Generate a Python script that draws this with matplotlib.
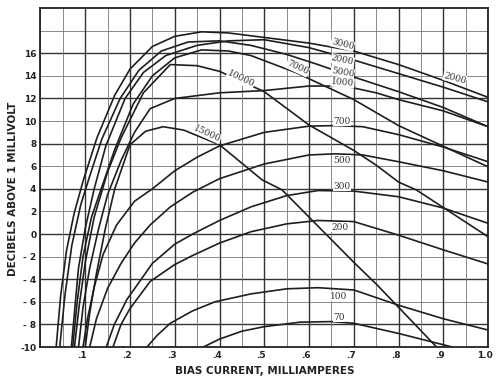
import matplotlib
matplotlib.use("Agg")
import matplotlib.pyplot as plt
import matplotlib.transforms as mtransforms
from matplotlib.ticker import MultipleLocator

# Bias current (mA) vs output (dB above 1 mV), one curve per frequency (c/s)
x_70 = [0.364, 0.40, 0.45, 0.50, 0.58, 0.65, 0.70, 0.80, 0.87, 0.92]
y_70 = [-10, -9.3, -8.6, -8.2, -7.8, -7.75, -7.9, -8.8, -9.5, -10]

x_100 = [0.238, 0.26, 0.29, 0.34, 0.39, 0.47, 0.55, 0.62, 0.70, 0.80, 0.90, 1.0]
y_100 = [-10, -9.0, -7.9, -6.8, -6.0, -5.3, -4.85, -4.75, -4.95, -6.3, -7.5, -8.5]

x_200 = [0.162, 0.18, 0.20, 0.245, 0.30, 0.34, 0.40, 0.47, 0.55, 0.62, 0.70, 0.80, 0.90, 1.0]
y_200 = [-10, -8.0, -6.6, -4.2, -2.7, -1.9, -0.8, 0.2, 0.9, 1.2, 1.1, -0.1, -1.4, -2.65]

x_300 = [0.147, 0.165, 0.193, 0.25, 0.30, 0.34, 0.40, 0.47, 0.55, 0.62, 0.70, 0.80, 0.90, 1.0]
y_300 = [-10, -8.0, -5.8, -2.6, -0.9, 0.0, 1.2, 2.4, 3.4, 3.85, 3.8, 3.3, 2.3, 0.95]

x_500 = [0.11, 0.125, 0.15, 0.18, 0.21, 0.245, 0.29, 0.34, 0.40, 0.50, 0.60, 0.66, 0.72, 0.80, 0.90, 1.0]
y_500 = [-10, -7.5, -4.8, -2.6, -0.8, 0.8, 2.4, 3.7, 4.9, 6.2, 7.0, 7.1, 7.0, 6.4, 5.6, 4.6]

x_700 = [0.095, 0.105, 0.12, 0.14, 0.17, 0.21, 0.25, 0.30, 0.35, 0.40, 0.50, 0.60, 0.66, 0.72, 0.80, 0.90, 1.0]
y_700 = [-10, -7.5, -4.7, -1.8, 0.8, 2.9, 4.0, 5.6, 6.8, 7.8, 9.0, 9.55, 9.6, 9.5, 8.8, 7.7, 6.4]

x_1000 = [0.085, 0.095, 0.11, 0.13, 0.15, 0.18, 0.21, 0.245, 0.30, 0.40, 0.50, 0.60, 0.68, 0.75, 0.80, 0.90, 1.0]
y_1000 = [-10, -6.5, -3.0, 0.5, 3.5, 6.5, 9.0, 11.1, 12.0, 12.5, 12.7, 13.1, 13.1, 12.5, 11.9, 10.9, 9.5]

x_2000 = [0.069, 0.078, 0.085, 0.10, 0.12, 0.146, 0.189, 0.23, 0.28, 0.35, 0.42, 0.50, 0.60, 0.70, 0.80, 0.90, 1.0]
y_2000 = [-10, -6.0, -3.0, 0.5, 4.0, 7.8, 12.0, 14.3, 15.8, 16.7, 17.1, 17.2, 16.5, 15.4, 14.2, 13.0, 11.7]

x_3000 = [0.035, 0.045, 0.058, 0.075, 0.096, 0.126, 0.166, 0.20, 0.25, 0.30, 0.36, 0.42, 0.50, 0.60, 0.70, 0.80, 0.90, 1.0]
y_3000 = [-10, -5.5, -1.5, 1.8, 4.8, 8.5, 12.3, 14.6, 16.6, 17.5, 17.9, 17.8, 17.4, 16.9, 16.2, 15.0, 13.6, 12.1]

x_5000 = [0.043, 0.055, 0.07, 0.09, 0.109, 0.137, 0.178, 0.22, 0.27, 0.33, 0.40, 0.47, 0.55, 0.62, 0.70, 0.80, 0.90, 1.0]
y_5000 = [-10, -5.3, -1.0, 2.6, 5.0, 8.4, 12.0, 14.5, 16.2, 17.0, 17.1, 16.7, 15.9, 15.0, 13.9, 12.6, 11.2, 9.5]

x_7000 = [0.072, 0.082, 0.095, 0.114, 0.14, 0.166, 0.207, 0.25, 0.30, 0.36, 0.42, 0.47, 0.57, 0.70, 0.80, 0.92, 1.0]
y_7000 = [-10, -6.0, -2.0, 1.5, 4.5, 7.5, 11.5, 14.0, 15.6, 16.3, 16.2, 15.8, 14.3, 11.9, 9.6, 7.4, 5.95]

x_10000 = [0.076, 0.086, 0.10, 0.12, 0.15, 0.18, 0.23, 0.29, 0.35, 0.40, 0.45, 0.50, 0.60, 0.70, 0.75, 0.80, 0.84, 1.0]
y_10000 = [-10, -6.5, -2.5, 1.5, 5.5, 8.5, 12.5, 15.0, 14.9, 14.4, 13.5, 12.6, 9.65, 7.4, 6.1, 4.6, 3.9, -0.24]

x_15000 = [0.10, 0.11, 0.125, 0.145, 0.166, 0.20, 0.235, 0.274, 0.32, 0.40, 0.495, 0.54, 0.60, 0.70, 0.752, 0.885]
y_15000 = [-10, -7.0, -3.5, 0.5, 4.0, 7.9, 9.1, 9.5, 9.2, 7.9, 4.8, 3.9, 1.5, -2.5, -4.5, -10]

curves = [
    (x_70, y_70), (x_100, y_100), (x_200, y_200), (x_300, y_300), (x_500, y_500),
    (x_700, y_700), (x_1000, y_1000), (x_2000, y_2000), (x_3000, y_3000),
    (x_5000, y_5000), (x_7000, y_7000), (x_10000, y_10000), (x_15000, y_15000),
]

# curve labels: text, x, y, rotation
labels = [
    ("3000", 0.675, 16.8, -14), ("2000", 0.675, 15.4, -12), ("5000", 0.675, 14.3, -10),
    ("1000", 0.675, 13.4, -5), ("7000", 0.574, 14.7, -25), ("2000", 0.926, 13.8, -15),
    ("10000", 0.447, 13.7, -25), ("15000", 0.372, 8.9, -25), ("700", 0.674, 10.0, 0),
    ("500", 0.674, 6.55, 0), ("300", 0.674, 4.25, 0), ("200", 0.669, 0.6, 0),
    ("100", 0.667, -5.5, 0), ("70", 0.667, -7.35, 0),
]

x_ticks = [0.1, 0.2, 0.3, 0.4, 0.5, 0.6, 0.7, 0.8, 0.9, 1.0]
x_ticklabels = [".1", ".2", ".3", ".4", ".5", ".6", ".7", ".8", ".9", "1.0"]
y_ticks = list(range(-10, 17, 2))
y_ticklabels = ["-10", "- 8", "- 6", "- 4", "- 2", "0", "2", "4", "6", "8", "10", "12", "14", "16"]

fig = plt.figure(figsize=(4.98, 3.85), dpi=100)
ax = fig.add_axes([0.0813, 0.0987, 0.8987, 0.8803])

ax.set_xlim(0, 1.0)
ax.set_ylim(-10, 20)
ax.xaxis.set_minor_locator(MultipleLocator(0.05))

# grid: heavy lines every .1 mA and every 4 dB, light ones in between
ax.grid(True, which="major", axis="x", color="#333333", linewidth=1.0)
ax.grid(True, which="minor", axis="x", color="#777777", linewidth=0.6)
for v in range(-8, 20, 2):
    heavy = (v % 4 == 0)
    ax.axhline(v, color="#333333" if heavy else "#777777",
               linewidth=1.0 if heavy else 0.6, zorder=0.5)
ax.set_axisbelow(True)

ax.set_xticks(x_ticks)
ax.set_xticklabels(x_ticklabels)
ax.set_yticks(y_ticks)
ax.set_yticklabels(y_ticklabels)
ax.tick_params(length=0, labelsize=6.5, colors="#222222", pad=3)
ax.tick_params(which="minor", length=0)
shift = mtransforms.ScaledTranslation(-3 / 100, 0, fig.dpi_scale_trans)
for t in ax.get_xticklabels():
    t.set_transform(t.get_transform() + shift)
for t in ax.get_xticklabels() + ax.get_yticklabels():
    t.set_fontweight("bold")

for sp in ax.spines.values():
    sp.set_color("#222222")
    sp.set_linewidth(1.3)

for xs, ys in curves:
    ax.plot(xs, ys, color="#1e1e1e", linewidth=1.2, clip_on=True)

for txt, lx, ly, rot in labels:
    ax.text(lx, ly, txt, fontsize=6.5, color="#333333", ha="center", va="center",
            rotation=rot, family="DejaVu Serif",
            bbox=dict(facecolor="white", edgecolor="none", pad=0.3))

ax.set_xlabel("BIAS CURRENT, MILLIAMPERES", fontsize=7.5, fontweight="bold", color="#222222", labelpad=4)
ax.set_ylabel("DECIBELS ABOVE 1 MILLIVOLT", fontsize=7.5, fontweight="bold", color="#222222")
ax.yaxis.set_label_coords(-0.05, 0.466)

fig.savefig("out.png", dpi=100, facecolor="white")
